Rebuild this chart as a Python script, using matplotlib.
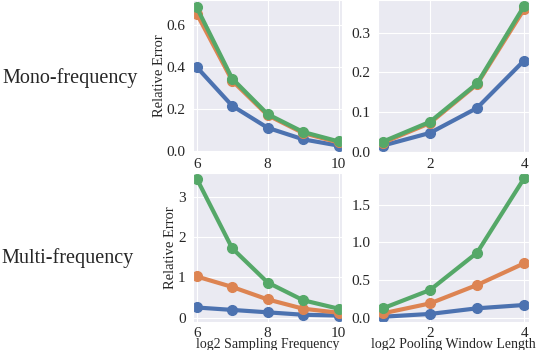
import matplotlib
matplotlib.use("Agg")
import matplotlib.pyplot as plt
import seaborn as sns

sns.set_style("darkgrid")
plt.rcParams['font.family'] = ['Liberation Serif', 'DejaVu Serif']

freq_x = [6, 7, 8, 9, 10]
pool_x = [1, 2, 3, 4]

# mono-frequency
mono_freq_blue = [0.40, 0.215, 0.11, 0.055, 0.025]
mono_freq_orange = [0.655, 0.335, 0.17, 0.085, 0.04]
mono_freq_green = [0.685, 0.345, 0.175, 0.09, 0.045]
mono_pool_blue = [0.015, 0.047, 0.11, 0.23]
mono_pool_orange = [0.022, 0.072, 0.17, 0.36]
mono_pool_green = [0.025, 0.075, 0.172, 0.368]

# multi-frequency
multi_freq_blue = [0.25, 0.19, 0.13, 0.07, 0.05]
multi_freq_orange = [1.02, 0.76, 0.45, 0.22, 0.12]
multi_freq_green = [3.45, 1.72, 0.87, 0.43, 0.22]
multi_pool_blue = [0.013, 0.05, 0.125, 0.169]
multi_pool_orange = [0.058, 0.19, 0.435, 0.723]
multi_pool_green = [0.125, 0.368, 0.864, 1.854]

colors = ['#4C72B0', '#DD8452', '#55A868']

fig = plt.figure(figsize=(5.38, 3.5), dpi=100)
ax1 = fig.add_axes([0.359, 0.566, 0.277, 0.434])
ax2 = fig.add_axes([0.703, 0.566, 0.280, 0.434])
ax3 = fig.add_axes([0.359, 0.080, 0.277, 0.426])
ax4 = fig.add_axes([0.703, 0.080, 0.280, 0.426])

def draw(ax, x, series):
    for ys, c in zip(series, colors):
        ax.plot(x, ys, color=c, lw=3, marker='o', ms=7)
    ax.tick_params(labelsize=11, pad=2)
    ax.tick_params(axis='x', pad=1)

draw(ax1, freq_x, [mono_freq_blue, mono_freq_orange, mono_freq_green])
draw(ax2, pool_x, [mono_pool_blue, mono_pool_orange, mono_pool_green])
draw(ax3, freq_x, [multi_freq_blue, multi_freq_orange, multi_freq_green])
draw(ax4, pool_x, [multi_pool_blue, multi_pool_orange, multi_pool_green])
ax3.tick_params(axis='x', pad=0)
ax4.tick_params(axis='x', pad=0)

for ax in (ax1, ax3):
    ax.set_xlim(5.9, 10.1)
    ax.set_xticks([6, 8, 10])
    ax.set_ylabel('Relative Error', fontsize=10.5, labelpad=0.5)
for ax in (ax2, ax4):
    ax.set_xlim(0.9, 4.1)
    ax.set_xticks([2, 4])

ax1.set_ylim(-0.005, 0.72)
ax1.set_yticks([0.0, 0.2, 0.4, 0.6])
ax2.set_ylim(-0.001, 0.383)
ax2.set_yticks([0.0, 0.1, 0.2, 0.3])
ax3.set_ylim(-0.11, 3.59)
ax3.set_yticks([0, 1, 2, 3])
ax4.set_ylim(-0.057, 1.925)
ax4.set_yticks([0.0, 0.5, 1.0, 1.5])

ax3.set_xlabel('log2 Sampling Frequency', fontsize=10, labelpad=-1)
ax4.set_xlabel('log2 Pooling Window Length', fontsize=10, labelpad=-1)

fig.text(70 / 538, 1 - 78 / 350, 'Mono-frequency', fontsize=14.5, ha='center', va='center')
fig.text(68 / 538, 1 - 258 / 350, 'Multi-frequency', fontsize=14.5, ha='center', va='center')

fig.savefig('out.png', dpi=100)
